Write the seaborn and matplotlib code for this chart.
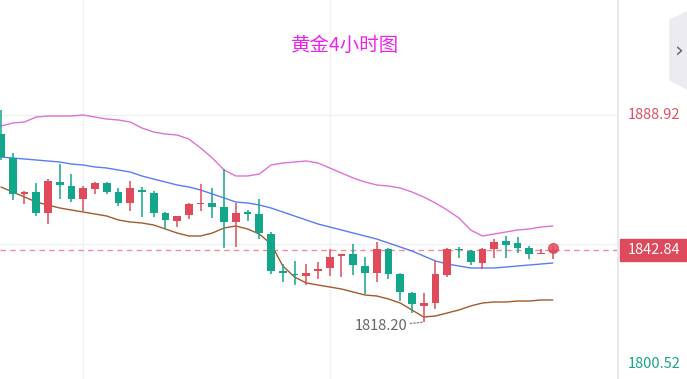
import matplotlib
matplotlib.use('Agg')
import matplotlib.pyplot as plt
import matplotlib.transforms as mtransforms
from matplotlib.patches import Rectangle, Polygon
import seaborn as sns
import numpy as np
import pandas as pd

# Gold 4h candles
opens = [1882.43, 1874.24, 1861.95, 1862.64, 1855.47, 1866.05, 1864.68, 1860.25,
         1863.66, 1865.71, 1862.64, 1858.88, 1863.32, 1862.30, 1855.47, 1852.74,
         1854.79, 1858.54, 1858.88, 1857.52, 1852.40, 1855.81, 1855.13, 1848.30,
         1835.67, 1834.65, 1833.97, 1835.67, 1836.70, 1840.79, 1841.48, 1837.38,
         1834.99, 1843.18, 1834.65, 1828.16, 1823.73, 1824.75, 1834.31, 1843.18,
         1842.50, 1838.41, 1843.18, 1845.91, 1845.23, 1843.52, 1841.48, 1842.16]
highs = [1890.62, 1875.95, 1862.98, 1865.71, 1867.07, 1872.19, 1868.78, 1864.68,
         1866.00, 1865.90, 1864.00, 1866.39, 1864.34, 1862.98, 1855.81, 1854.45,
         1858.88, 1865.37, 1864.00, 1870.48, 1858.88, 1856.49, 1860.25, 1848.98,
         1838.06, 1839.09, 1838.06, 1838.75, 1843.18, 1841.60, 1844.89, 1840.45,
         1845.57, 1843.40, 1834.90, 1828.50, 1828.16, 1839.09, 1843.52, 1843.87,
         1842.84, 1843.52, 1846.59, 1847.62, 1847.28, 1844.21, 1843.18, 1844.21]
lows = [1873.56, 1859.91, 1858.54, 1854.45, 1851.71, 1860.25, 1859.22, 1856.15,
        1861.95, 1861.95, 1857.86, 1856.15, 1854.10, 1854.10, 1850.01, 1850.69,
        1853.42, 1856.15, 1853.76, 1843.52, 1843.87, 1852.74, 1846.59, 1834.65,
        1831.92, 1830.89, 1830.89, 1832.94, 1833.97, 1833.63, 1834.31, 1827.82,
        1831.92, 1832.94, 1825.43, 1821.34, 1818.20, 1822.70, 1833.63, 1840.11,
        1837.72, 1836.36, 1840.11, 1840.11, 1841.82, 1839.77, 1841.48, 1839.77]
closes = [1874.58, 1861.95, 1862.64, 1855.47, 1866.39, 1865.03, 1860.25, 1864.00,
          1865.71, 1862.64, 1858.88, 1864.00, 1862.64, 1855.47, 1853.08, 1854.45,
          1858.54, 1858.88, 1857.52, 1852.40, 1855.47, 1855.13, 1848.64, 1835.67,
          1834.99, 1834.31, 1834.99, 1836.36, 1840.45, 1841.48, 1837.72, 1834.99,
          1843.18, 1834.65, 1828.50, 1824.41, 1824.75, 1834.65, 1843.18, 1842.84,
          1838.75, 1843.18, 1845.57, 1844.55, 1843.52, 1841.48, 1841.82, 1842.84]

# Bollinger bands
upper = [1885.16, 1886.19, 1886.53, 1888.23, 1888.58, 1888.58, 1888.58, 1888.92,
         1888.23, 1887.55, 1887.21, 1886.53, 1884.48, 1883.11, 1882.43, 1882.09,
         1880.72, 1877.65, 1874.24, 1870.14, 1868.10, 1868.10, 1868.78, 1871.85,
         1872.53, 1872.87, 1873.22, 1872.53, 1870.83, 1869.12, 1867.41, 1866.05,
         1865.03, 1864.68, 1864.00, 1862.64, 1860.93, 1858.88, 1856.49, 1853.76,
         1849.67, 1847.62, 1848.30, 1848.98, 1849.67, 1850.01, 1850.69, 1851.03]
middle = [1874.58, 1874.24, 1873.90, 1873.56, 1873.22, 1872.87, 1872.19, 1871.85,
          1871.17, 1870.83, 1870.14, 1869.46, 1868.10, 1867.07, 1866.05, 1865.03,
          1864.34, 1863.32, 1861.95, 1860.59, 1859.22, 1858.88, 1858.20, 1857.18,
          1855.81, 1854.45, 1853.08, 1851.71, 1850.69, 1849.67, 1848.64, 1847.62,
          1846.59, 1845.23, 1843.87, 1842.50, 1840.79, 1839.09, 1838.06, 1837.38,
          1836.70, 1836.70, 1836.70, 1837.04, 1837.38, 1837.72, 1838.06, 1838.41]
lower = [1864.34, 1862.64, 1860.93, 1859.22, 1858.20, 1857.18, 1856.49, 1855.81,
         1855.13, 1854.45, 1853.08, 1852.40, 1852.06, 1851.37, 1850.01, 1848.64,
         1847.62, 1847.62, 1848.64, 1850.35, 1851.03, 1850.01, 1848.30, 1844.89,
         1837.40, 1833.60, 1831.60, 1830.89, 1830.21, 1829.53, 1828.50, 1827.48,
         1827.14, 1826.12, 1824.75, 1822.36, 1819.97, 1820.31, 1821.34, 1822.36,
         1823.73, 1824.75, 1825.09, 1825.09, 1825.43, 1825.43, 1825.78, 1825.78]

grid_ticks = [1844.72, 1888.92]
label_top = 1888.92
label_bottom = 1800.52
low_value = 1818.20
low_index = 36

RED = '#e04b5b'
GREEN = '#12a68a'

sns.set_theme(style='white')
plt.rcParams['font.family'] = ['Noto Sans CJK SC', 'DejaVu Sans']

fig = plt.figure(figsize=(6.87, 3.79), dpi=100)
ax = fig.add_axes([0, 0, 618 / 687, 1])

n = len(opens)
idx = np.arange(n)
df = pd.DataFrame({'i': idx, 'open': opens, 'high': highs, 'low': lows, 'close': closes,
                   'upper': upper, 'middle': middle, 'lower': lower})
up = df['close'] >= df['open']
colors = np.where(up, RED, GREEN)

# grid
ax.set_xticks([7, 28])
ax.set_yticks(grid_ticks)
ax.grid(True, color='#f0f0f4', lw=1)
ax.tick_params(labelleft=False, labelbottom=False, length=0)
for s in ['top', 'left', 'bottom']:
    ax.spines[s].set_visible(False)
ax.spines['right'].set_color('#e8e8f0')
ax.spines['right'].set_linewidth(1.5)

# bands
sns.lineplot(data=df, x='i', y='upper', ax=ax, color='#e070d6', lw=1, zorder=2)
sns.lineplot(data=df, x='i', y='middle', ax=ax, color='#5a7bf6', lw=1, zorder=2)
sns.lineplot(data=df, x='i', y='lower', ax=ax, color='#a3592c', lw=1, zorder=2)

# candles
ax.vlines(idx, df['low'], df['high'], colors=colors, lw=1.1, zorder=3)
body = np.maximum((df['close'] - df['open']).abs(), 0.4)
ax.bar(idx, body, bottom=np.minimum(df['open'], df['close']), width=0.66,
       color=colors, zorder=4, linewidth=0)

last = closes[-1]
ax.plot([idx[-1]], [last + 0.6], 'o', color=RED, ms=7, alpha=0.85, zorder=5)
ax.axhline(last, color='#f28c98', lw=1, ls=(0, (4, 3)), zorder=1)

ax.set_xlim(-0.085, 52.55)
ax.set_ylim(1798.81, 1928.17)
ax.set_xlabel('')
ax.set_ylabel('')

# low annotation
ax.annotate(f'{low_value:.2f}', xy=(low_index, low_value), xytext=(-12, -3),
            textcoords='offset points', ha='right', va='center', fontsize=10.5,
            color='#666666',
            arrowprops=dict(arrowstyle='-', ls=(0, (1, 1.5)), color='#888888', lw=1,
                            shrinkA=0, shrinkB=0))

# right axis labels
tr = mtransforms.blended_transform_factory(ax.transAxes, ax.transData)
ax.text(1.016, label_top, f'{label_top:.2f}', transform=tr, color='#e0505f',
        fontsize=10.5, va='center', ha='left', clip_on=False)
ax.annotate(f'{label_bottom:.2f}', xy=(1.016, label_bottom), xycoords=tr,
            xytext=(0, 2), textcoords='offset points', color='#1aa58a',
            fontsize=10.5, va='bottom', ha='left', annotation_clip=False)
ax.add_patch(Rectangle((1.003, last - 3.8), 0.12, 7.6, transform=tr, color='#dc4a5c',
                       clip_on=False, zorder=6))
ax.text(1.016, last, f'{last:.2f}', transform=tr, color='white', fontsize=10.5,
        va='center', ha='left', clip_on=False, zorder=7)

# title
fig.text(345 / 687, 1 - 45 / 379, '黄金4小时图', color='#ee22ee', fontsize=14,
         ha='center', va='center')

# side panel button
W, H = 687, 379
pts = [(670, 20), (687, 12), (687, 89), (670, 80)]
fig.patches.append(Polygon([(x / W, 1 - y / H) for x, y in pts], closed=True,
                           transform=fig.transFigure, color='#ececf0', zorder=0))
fig.text(679 / W, 1 - 50 / H, '›', color='#666a78', fontsize=16, ha='center',
         va='center', family='DejaVu Sans')

fig.savefig('out.png', dpi=100)
